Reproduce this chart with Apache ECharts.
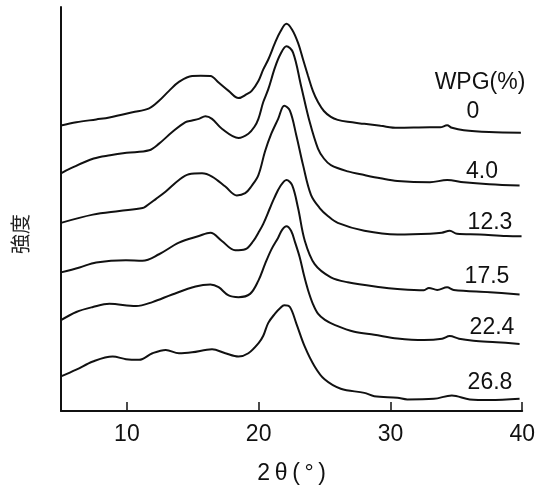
<!DOCTYPE html>
<html>
<head>
<meta charset="utf-8">
<script src="https://cdn.jsdelivr.net/npm/echarts@6/dist/echarts.min.js"></script>
<style>
  html, body { margin: 0; padding: 0; background: #fff; }
  #chart { width: 538px; height: 490px; }
</style>
</head>
<body>
<div id="chart"></div>
<script>
// X-ray diffraction patterns of WPG-treated samples, traces shifted vertically.
// Each trace: [2θ (deg), intensity (arb. units, including vertical shift)]
const wpgLevels = ['0', '4.0', '12.3', '17.5', '22.4', '26.8'];
const xTicks = [10, 20, 30, 40];

const trace0 = [
  [5.0, 288.3], [6.16, 291.5], [7.67, 294.5], [8.67, 296.5], [10.43, 301.7], [11.69, 305.7],
  [12.44, 313.3], [13.2, 323.3], [13.95, 332.3], [14.95, 338.3], [15.6, 338.5], [16.34, 338.3],
  [16.96, 331.7], [17.72, 323.3], [18.47, 316], [19.1, 320], [19.47, 323.3], [19.98, 333.3],
  [20.35, 345], [20.73, 355], [21.24, 371.7], [21.64, 383], [22.11, 391], [22.54, 385],
  [22.99, 371.7], [23.37, 355], [23.75, 338.3], [24.12, 323], [24.5, 312], [24.95, 303],
  [25.48, 297], [26.0, 294], [26.76, 292], [28.02, 290], [29.25, 288], [30.53, 286],
  [33.0, 286.5], [33.77, 286.5], [34.3, 288.5], [34.67, 286], [35.57, 283.5], [37.5, 281.7],
  [39.9, 281]
];

const trace1 = [
  [5.0, 240], [5.72, 245], [7.48, 255], [8.73, 258.3], [9.98, 260.7], [11.69, 263.3],
  [12.44, 270], [13.44, 281.7], [14.45, 291.7], [14.95, 293.3], [15.46, 295], [15.96, 297.7],
  [16.46, 295], [17.21, 285], [18.47, 275.7], [19.22, 280], [19.68, 287], [19.98, 295],
  [20.35, 312], [20.73, 325], [21.24, 347], [21.64, 360], [22.11, 368.3], [22.61, 362],
  [23.22, 328.3], [23.87, 292], [24.5, 265], [24.95, 255], [25.48, 248.3], [26.76, 242],
  [28.02, 238.3], [29.25, 235], [30.53, 232.3], [33.0, 231], [34.3, 233.3], [35.57, 231],
  [37.5, 229], [39.8, 227.7]
];

const trace2 = [
  [5.0, 190], [7.42, 198.3], [9.43, 202], [11.19, 205], [11.44, 206.7], [12.19, 214],
  [12.95, 221.7], [13.95, 233.3], [14.7, 239], [15.7, 240], [16.46, 236.7], [17.47, 226.7],
  [18.34, 217.7], [18.98, 220], [19.45, 227], [19.98, 238.3], [20.48, 262], [20.96, 280],
  [21.48, 295], [21.94, 308.3], [22.37, 303.3], [22.86, 278.3], [23.37, 248.3], [23.97, 218.3],
  [24.63, 205], [25.25, 197], [26.0, 190], [28.02, 182], [30.53, 178.3], [33.0, 179],
  [33.9, 180], [34.5, 182], [35.05, 179], [36.78, 178.3], [38.8, 176.7], [39.95, 176.5]
];

const trace3 = [
  [5.0, 140], [6.41, 145], [7.67, 150], [9.93, 152.3], [11.18, 151.7], [12.44, 158.3],
  [13.95, 170], [15.46, 176.7], [16.34, 180], [17.21, 171.7], [18.22, 162.3], [18.98, 163.3],
  [19.6, 171.7], [19.98, 180], [20.35, 189], [20.86, 205], [21.18, 215], [21.64, 227],
  [22.11, 233.3], [22.54, 228], [22.99, 205], [23.5, 172], [24.25, 148.3], [25.48, 135],
  [26.76, 130], [29.25, 125], [30.53, 123.3], [32.54, 122], [32.92, 124.3], [33.55, 122.3],
  [34.3, 125], [34.8, 122.3], [37.54, 120], [39.8, 117.7]
];

const trace4 = [
  [5.0, 91.7], [6.16, 100], [7.42, 105], [8.67, 108.3], [10.69, 106], [11.94, 110],
  [13.44, 117.7], [15.21, 125.7], [16.34, 127.7], [16.96, 125], [17.72, 116.7], [18.47, 115],
  [19.35, 118.3], [19.98, 131.7], [20.48, 148.3], [20.96, 163], [21.48, 175], [21.78, 183],
  [22.11, 186.7], [22.46, 182], [22.77, 170], [23.12, 155], [23.44, 137], [23.75, 122],
  [24.12, 108], [24.5, 98.3], [25.03, 92], [25.76, 87], [27.26, 80], [28.77, 77],
  [30.53, 73.3], [32.54, 71.7], [33.92, 73], [34.5, 75.7], [35.2, 73], [36.3, 71],
  [38.05, 69.5], [39.8, 67.7]
];

const trace5 = [
  [5.0, 35], [6.16, 41.7], [7.42, 50], [8.92, 55], [9.93, 52.3], [10.93, 51.7],
  [11.94, 58.3], [12.95, 61.7], [13.95, 58.3], [14.95, 59.3], [16.46, 62.3], [17.47, 58.3],
  [18.47, 55], [19.22, 58.3], [19.98, 68.3], [20.35, 76], [20.73, 89], [21.24, 98.3],
  [21.64, 104], [21.94, 106.7], [22.37, 105], [22.86, 88.3], [23.5, 65], [24.25, 45],
  [25.0, 32], [26.23, 22.5], [28.02, 18.3], [28.77, 15], [30.53, 13.3], [31.28, 11.7],
  [33.29, 12.3], [34.66, 15.7], [36.02, 11.7], [37.53, 11], [39.8, 12.3]
];

const traces = [trace0, trace1, trace2, trace3, trace4, trace5];

// label anchor points (pixels) for the WPG annotations at the right
const labelPos = [[473, 112], [482, 172], [490, 223], [487, 277], [492, 328], [490, 383]];

const textFont = "'Liberation Sans', Arial, sans-serif";
const chart = echarts.init(document.getElementById('chart'), null, { renderer: 'canvas' });

const series = traces.map((t, i) => ({
  name: wpgLevels[i],
  type: 'line',
  data: t,
  showSymbol: false,
  smooth: 0.35,
  lineStyle: { color: '#111', width: 2 },
  animation: false
}));

const graphics = [{
  type: 'text', x: 480, y: 83,
  style: { text: 'WPG(%)', font: "23px " + textFont, fill: '#111', textAlign: 'center', textVerticalAlign: 'middle' }
}, {
  type: 'text', x: 20, y: 234, rotation: Math.PI / 2,
  style: { text: '強度', font: "20px 'Noto Sans CJK JP', sans-serif", fill: '#222', textAlign: 'center', textVerticalAlign: 'middle' }
}].concat(wpgLevels.map((lv, i) => ({
  type: 'text', x: labelPos[i][0], y: labelPos[i][1],
  style: { text: lv, font: "23px " + textFont, fill: '#111', textAlign: 'center', textVerticalAlign: 'middle' }
})));

chart.setOption({
  animation: false,
  backgroundColor: '#fff',
  grid: { left: 61, right: 13, top: 7, bottom: 75, containLabel: false },
  xAxis: {
    type: 'value',
    min: 5, max: 40,
    name: '2\u2009θ\u2009(\u2009°\u2009)',
    nameLocation: 'middle',
    nameGap: 51,
    nameTextStyle: { fontFamily: textFont, fontSize: 23, color: '#111' },
    axisLine: { show: true, onZero: false, lineStyle: { color: '#111', width: 2 } },
    axisTick: { show: true, inside: true, length: 9, customValues: xTicks, lineStyle: { color: '#111', width: 1.5 } },
    axisLabel: { show: true, customValues: xTicks, margin: 12, fontFamily: textFont, fontSize: 23, color: '#111' },
    splitLine: { show: false }
  },
  yAxis: {
    type: 'value',
    min: 0, max: 408,
    axisLine: { show: true, lineStyle: { color: '#111', width: 2 } },
    axisTick: { show: false },
    axisLabel: { show: false },
    splitLine: { show: false }
  },
  series: series,
  graphic: graphics
});
</script>
</body>
</html>
